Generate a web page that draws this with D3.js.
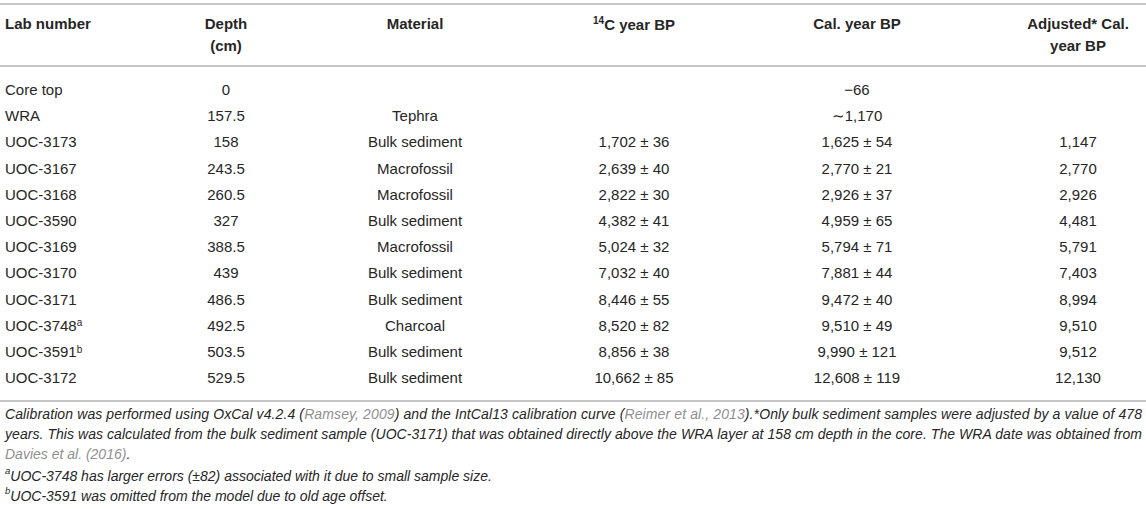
<!DOCTYPE html>
<meta charset="utf-8">
<head>
  <style>
      body {
          margin: 0;
          background: #fff;
      }
      #my_table text {
          font-family: "Liberation Sans", Arial, Helvetica, sans-serif;
          fill: #262626;
      }
      .head {
          font-weight: bold;
          font-size: 15px;
      }
      .cell {
          font-size: 15px;
      }
      .note {
          font-size: 14px;
          font-style: italic;
      }
      .cite {
          fill: #8f8f8f !important;
      }
  </style>
</head>

<body>

<div id="my_table"></div>

<script src="https://d3js.org/d3.v7.min.js"></script>
<script>

// table data, one array per column
var labNumbers = ["Core top", "WRA", "UOC-3173", "UOC-3167", "UOC-3168", "UOC-3590", "UOC-3169", "UOC-3170", "UOC-3171", "UOC-3748", "UOC-3591", "UOC-3172"];
var labMarks   = ["", "", "", "", "", "", "", "", "", "a", "b", ""];
var depths     = [0, 157.5, 158, 243.5, 260.5, 327, 388.5, 439, 486.5, 492.5, 503.5, 529.5];
var materials  = ["", "Tephra", "Bulk sediment", "Macrofossil", "Macrofossil", "Bulk sediment", "Macrofossil", "Bulk sediment", "Bulk sediment", "Charcoal", "Bulk sediment", "Bulk sediment"];
var c14Ages    = [null, null, 1702, 2639, 2822, 4382, 5024, 7032, 8446, 8520, 8856, 10662];
var c14Errors  = [null, null, 36, 40, 30, 41, 32, 40, 55, 82, 38, 85];
var calAges    = [-66, 1170, 1625, 2770, 2926, 4959, 5794, 7881, 9472, 9510, 9990, 12608];
var calErrors  = [null, null, 54, 21, 37, 65, 71, 44, 40, 49, 121, 119];
var calApprox  = [false, true, false, false, false, false, false, false, false, false, false, false];
var adjusted   = [null, null, 1147, 2770, 2926, 4481, 5791, 7403, 8994, 9510, 9512, 12130];

var columns = ["lab", "depth", "material", "c14", "cal", "adj"];
var headLines = [["Lab number"], ["Depth", "(cm)"], ["Material"], ["C year BP"], ["Cal. year BP"], ["Adjusted* Cal.", "year BP"]];

var W = 1146, H = 509;

var svg = d3.select("#my_table")
  .append("svg")
    .attr("width", W)
    .attr("height", H);

// column anchors
var x = d3.scaleOrdinal()
  .domain(columns)
  .range([5, 226, 415, 634, 857, 1078]);

var anchor = function(c) { return c == "lab" ? "start" : "middle"; };

// row positions
var y = d3.scalePoint()
  .domain(d3.range(labNumbers.length))
  .range([89.5, 378]);

var fmt = d3.format(",");
var fmtErr = function(v, e) { return fmt(v) + " \u00b1 " + e; };

// rules
var rules = [4, 66, 401];
svg.selectAll("line.rule")
  .data(rules)
  .enter()
  .append("line")
    .attr("class", "rule")
    .attr("x1", 0)
    .attr("x2", W)
    .attr("y1", function(d) { return d; })
    .attr("y2", function(d) { return d; })
    .attr("stroke", "#b3b3b3")
    .attr("stroke-width", 1.6);

// header
var head = svg.selectAll("text.head")
  .data(columns)
  .enter()
  .append("text")
    .attr("class", "head")
    .attr("x", function(c) { return x(c); })
    .attr("text-anchor", anchor);

head.each(function(c, i) {
  var t = d3.select(this);
  headLines[i].forEach(function(line, j) {
    if (c == "c14") {
      t.append("tspan").attr("x", x(c)).attr("y", 24 + j * 22).attr("dy", "-0.05em")
        .style("font-size", "10px").text("14");
      t.append("tspan").attr("dy", "0.4em").text(line);
    } else {
      t.append("tspan").attr("x", x(c)).attr("y", 24 + j * 22).attr("dy", "0.35em").text(line);
    }
  });
});

// body cells
var rows = svg.selectAll("g.row")
  .data(d3.range(labNumbers.length))
  .enter()
  .append("g")
    .attr("class", "row")
    .attr("transform", function(i) { return "translate(0," + y(i) + ")"; });

var cellText = function(c, i) {
  if (c == "lab") return labNumbers[i];
  if (c == "depth") return String(depths[i]);
  if (c == "material") return materials[i];
  if (c == "c14") return c14Ages[i] == null ? "" : fmtErr(c14Ages[i], c14Errors[i]);
  if (c == "cal") return calErrors[i] == null ? (calApprox[i] ? "\u223c" : "") + fmt(calAges[i]) : fmtErr(calAges[i], calErrors[i]);
  if (c == "adj") return adjusted[i] == null ? "" : fmt(adjusted[i]);
};

rows.each(function(i) {
  var g = d3.select(this);
  columns.forEach(function(c) {
    var t = g.append("text")
      .attr("class", "cell")
      .attr("x", x(c))
      .attr("dy", "0.36em")
      .attr("text-anchor", anchor(c))
      .text(cellText(c, i));
    if (c == "lab" && labMarks[i]) {
      t.append("tspan").attr("dy", "-0.45em").style("font-size", "10px").text(labMarks[i]);
    }
  });
});

// footnotes
var noteLines = [
  [["Calibration was performed using OxCal v4.2.4 (", ""], ["Ramsey, 2009", "cite"], [") and the IntCal13 calibration curve (", ""], ["Reimer et al., 2013", "cite"], [").*Only bulk sediment samples were adjusted by a value of 478", ""]],
  [["years. This was calculated from the bulk sediment sample (UOC-3171) that was obtained directly above the WRA layer at 158 cm depth in the core. The WRA date was obtained from", ""]],
  [["Davies et al. (2016)", "cite"], [".", ""]],
  [["a", "sup"], ["UOC-3748 has larger errors (\u00b182) associated with it due to small sample size.", ""]],
  [["b", "sup"], ["UOC-3591 was omitted from the model due to old age offset.", ""]]
];

var notes = svg.selectAll("text.note")
  .data(noteLines)
  .enter()
  .append("text")
    .attr("class", "note")
    .attr("x", 5)
    .attr("y", function(d, i) { return 419 + i * 20; });

notes.each(function(parts, i) {
  var t = d3.select(this);
  parts.forEach(function(p) {
    var s = t.append("tspan").text(p[0]);
    if (p[1] == "cite") s.attr("class", "cite");
    if (p[1] == "sup") s.style("font-size", "9.5px").attr("dy", "-0.5em");
    else if (p[0] && parts[0][1] == "sup" && p !== parts[0]) s.attr("dy", "0.5em");
  });
  // first two lines are justified to the full width
  if (i < 2) {
    t.attr("textLength", 1137).attr("lengthAdjust", "spacing");
  }
});

</script>
</body>
